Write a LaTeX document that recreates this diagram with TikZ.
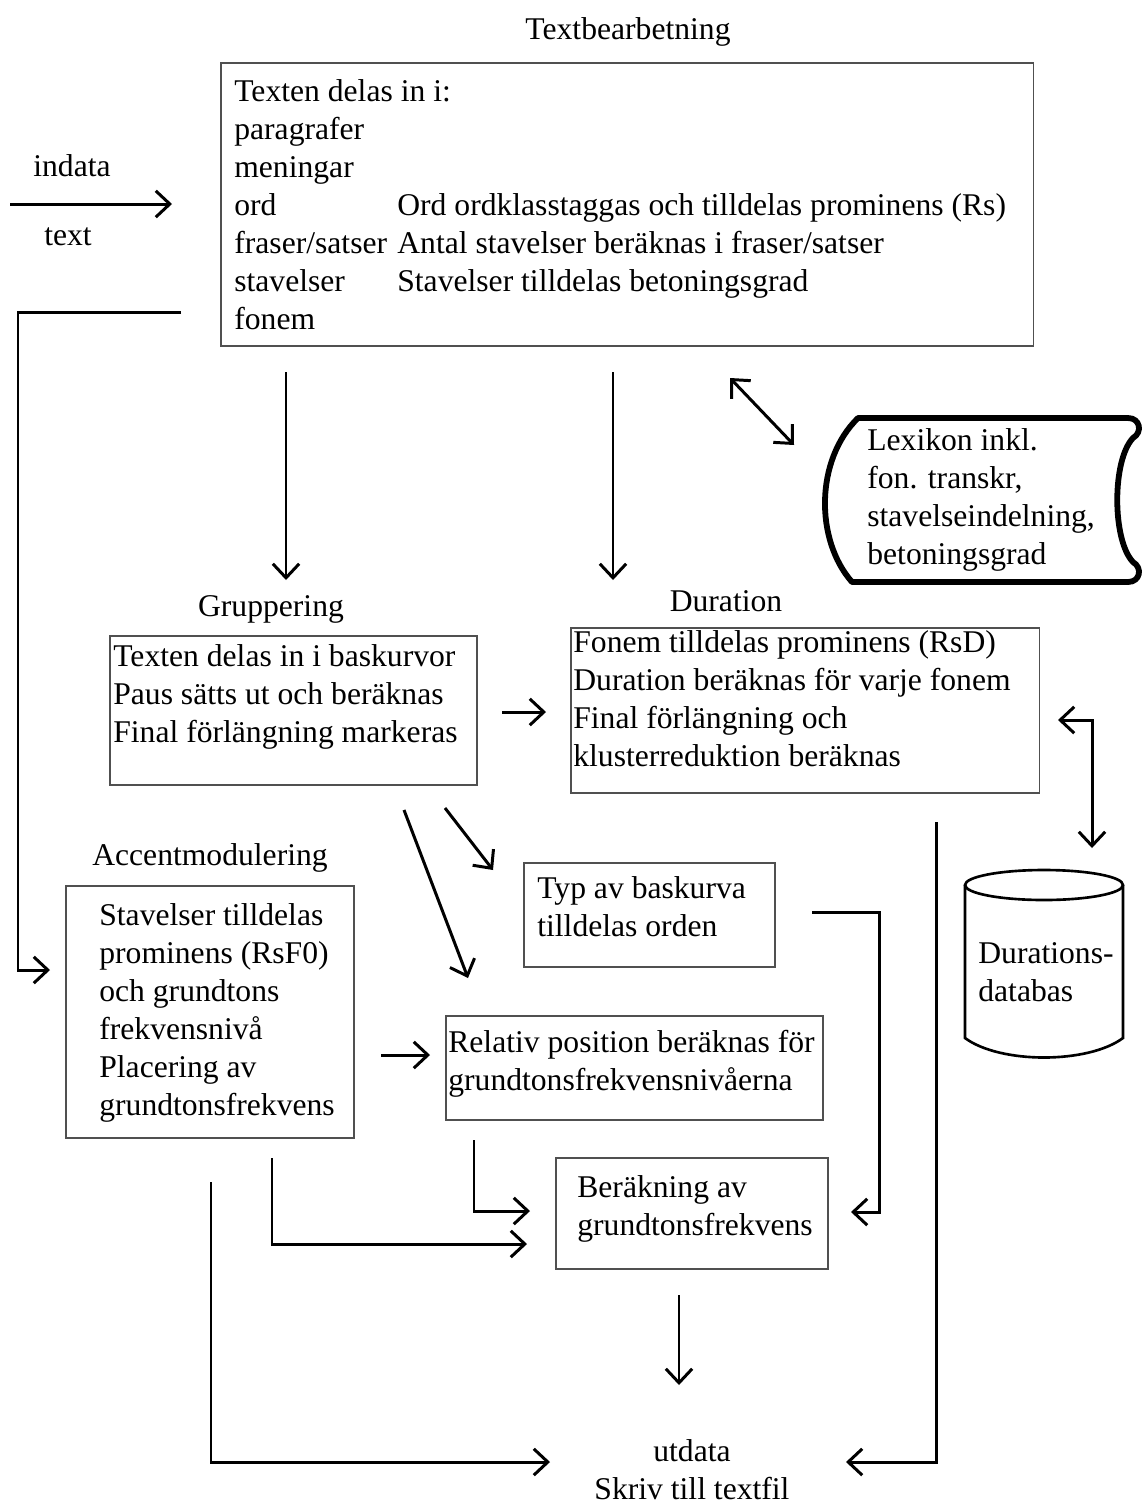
\documentclass[tikz,border=0pt]{standalone}
\usepackage{fontspec}
\setmainfont{Liberation Serif}
\usetikzlibrary{arrows.meta}
\definecolor{boxgray}{HTML}{505050}
\newcommand\fsz{\fontsize{18pt}{21.6pt}\selectfont}
\tikzset{
  box/.style={draw=boxgray, line width=0.9pt, inner sep=0pt, anchor=north west},
  txt/.style={font=\fsz, align=left, inner sep=0pt, anchor=north west},
  ttl/.style={font=\fsz, inner sep=0pt, anchor=base},
  arr/.style={line width=1.7pt, -{Straight Barb[length=8pt,width=15pt]}},
  darr/.style={line width=1.7pt, {Straight Barb[length=8pt,width=15pt]}-{Straight Barb[length=8pt,width=15pt]}},
  ln/.style={line width=1.7pt}
}
\begin{document}
\begin{tikzpicture}[x=0.02cm,y=-0.02cm]
\useasboundingbox[fill=white] (0,0) rectangle (1145,1512);
% titles
\node[ttl] (tTB) at (628,39) {Textbearbetning};
\node[ttl] (tGR) at (271,616) {Gruppering};
\node[ttl] (tDU) at (726,611) {Duration};
\node[ttl] (tAC) at (210,865) {Accentmodulering};
\node[ttl] (tIN) at (72,176) {indata};
\node[ttl] (tTX) at (68,245) {text};
% boxes
\node[box, minimum width=16.26cm, minimum height=5.66cm] (bTB) at (220,62) {};
\node[box, minimum width=7.34cm, minimum height=2.98cm] (bGR) at (109,635) {};
\node[box, minimum width=9.38cm, minimum height=3.30cm] (bDU) at (570,627) {};
\node[box, minimum width=5.76cm, minimum height=5.04cm] (bAC) at (65,885) {};
\node[box, minimum width=5.02cm, minimum height=2.08cm] (bTY) at (523,862) {};
\node[box, minimum width=7.54cm, minimum height=2.08cm] (bRE) at (445,1015) {};
\node[box, minimum width=5.44cm, minimum height=2.22cm] (bBE) at (555,1157) {};
% box texts
\node[txt] (xTB1) at (234,79) {Texten delas in i:\\paragrafer\\meningar\\ord\\fraser/satser\\stavelser\\fonem};
\node[txt] (xTB2) at (397,193) {Ord ordklasstaggas och tilldelas prominens (Rs)\\Antal stavelser beräknas i fraser/satser\\Stavelser tilldelas betoningsgrad};
\node[txt] (xGR) at (113,644) {Texten delas in i baskurvor\\Paus sätts ut och beräknas\\Final förlängning markeras};
\node[txt] (xDU) at (573,630) {Fonem tilldelas prominens (RsD)\\Duration beräknas för varje fonem\\Final förlängning och\\klusterreduktion beräknas};
\node[txt] (xAC) at (99,903) {Stavelser tilldelas\\prominens (RsF0)\\och grundtons\\frekvensnivå\\Placering av\\grundtonsfrekvens};
\node[txt] (xTY) at (537,876) {Typ av baskurva\\tilldelas orden};
\node[txt] (xRE) at (448,1030) {Relativ position beräknas för\\grundtonsfrekvensnivåerna};
\node[txt] (xBE) at (577,1175) {Beräkning av\\grundtonsfrekvens};
% lexikon
\draw[line width=3.3pt, line join=round]
  (858,418) -- (1128,418)
  .. controls (1140,418) and (1143,432) .. (1133,438)
  .. controls (1112,460) and (1112,540) .. (1133,562)
  .. controls (1143,568) and (1140,582) .. (1128,582)
  -- (852,582)
  .. controls (815,540) and (815,460) .. (858,418) -- cycle;
\node[txt] (xLX) at (867,428) {Lexikon inkl.\\fon. transkr,\\stavelseindelning,\\betoningsgrad};
% database
\draw[line width=1.5pt] (1044,885) ellipse [x radius=79, y radius=15];
\draw[line width=1.5pt] (965,885) -- (965,1038)
  .. controls (1000,1064) and (1088,1064) .. (1123,1038) -- (1123,885);
\node[txt] (xDB) at (978,942) {Durations-\\databas};
% output text
\node[font=\fsz, align=center, inner sep=0pt, anchor=north] (xUT) at (692,1439) {utdata\\Skriv till textfil};
% coordinates
\coordinate (in1) at (10,204); \coordinate (in2) at (172,204);
\coordinate (l1) at (181,312); \coordinate (l2) at (18,312); \coordinate (l3) at (18,970); \coordinate (l4) at (50,970);
\coordinate (d1) at (286,372); \coordinate (d2) at (286,580);
\coordinate (d3) at (613,372); \coordinate (d4) at (613,580);
\coordinate (x1) at (730,378); \coordinate (x2) at (794,445);
\coordinate (g1) at (502,712); \coordinate (g2) at (546,712);
\coordinate (e1) at (1058,720); \coordinate (e2) at (1092,720); \coordinate (e3) at (1092,848);
\coordinate (a1) at (445,808); \coordinate (a2) at (493,870);
\coordinate (a3) at (404,810); \coordinate (a4) at (468,978);
\coordinate (t1) at (812,912); \coordinate (t2) at (879,912); \coordinate (t3) at (879,1212); \coordinate (t4) at (851,1212);
\coordinate (r1) at (381,1055); \coordinate (r2) at (430,1055);
\coordinate (b1) at (474,1140); \coordinate (b2) at (474,1211); \coordinate (b3) at (530,1211);
\coordinate (c1) at (272,1158); \coordinate (c2) at (272,1244); \coordinate (c3) at (527,1244);
\coordinate (o1) at (211,1182); \coordinate (o2) at (211,1462); \coordinate (o3) at (550,1462);
\coordinate (p1) at (679,1295); \coordinate (p2) at (679,1385);
\coordinate (q1) at (936,822); \coordinate (q2) at (936,1462); \coordinate (q3) at (846,1462);
% connectors
\draw[arr] (in1) -- (in2);
\draw[arr] (l1) -- (l2) -- (l3) -- (l4);
\draw[arr] (d1) -- (d2);
\draw[arr] (d3) -- (d4);
\draw[darr] (x1) -- (x2);
\draw[arr] (g1) -- (g2);
\draw[darr] (e1) -- (e2) -- (e3);
\draw[arr] (a1) -- (a2);
\draw[arr] (a3) -- (a4);
\draw[arr] (t1) -- (t2) -- (t3) -- (t4);
\draw[arr] (r1) -- (r2);
\draw[arr] (b1) -- (b2) -- (b3);
\draw[arr] (c1) -- (c2) -- (c3);
\draw[arr] (o1) -- (o2) -- (o3);
\draw[arr] (p1) -- (p2);
\draw[arr] (q1) -- (q2) -- (q3);
\end{tikzpicture}
\end{document}
